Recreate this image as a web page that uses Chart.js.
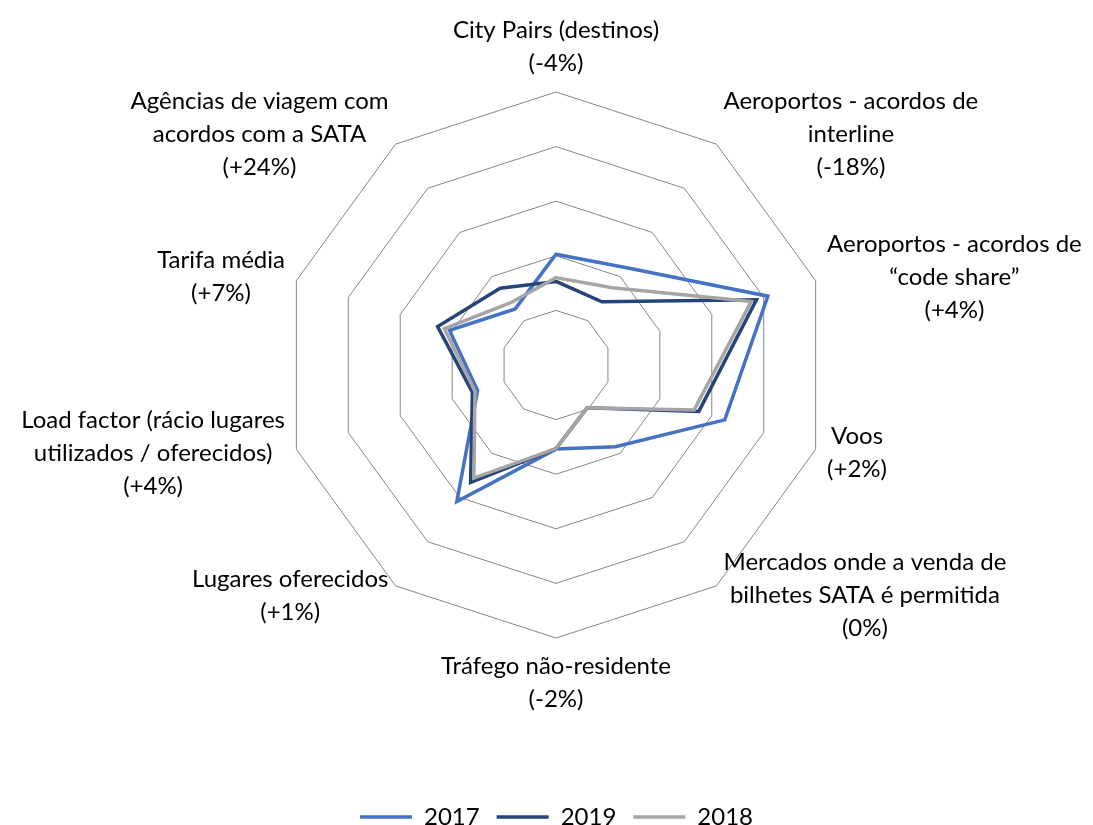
<!DOCTYPE html>
<html>
<head>
<meta charset="utf-8">
<script src="https://cdn.jsdelivr.net/npm/chart.js@4/dist/chart.umd.min.js"></script>
<style>
  html, body { margin: 0; padding: 0; background: #fff; }
  canvas { display: block; }
</style>
</head>
<body>
<canvas id="radarChart" width="1093" height="825"></canvas>
<script>
// Categorias (eixos) e variação 2018-2019
const categories = [
    ['City Pairs (destinos)'],
    ['Aeroportos - acordos de', 'interline'],
    ['Aeroportos - acordos de', '\u201Ccode share\u201D'],
    ['Voos'],
    ['Mercados onde a venda de', 'bilhetes SATA é permitida'],
    ['Tráfego não-residente'],
    ['Lugares oferecidos'],
    ['Load factor (rácio lugares', 'utilizados / oferecidos)'],
    ['Tarifa média'],
    ['Agências de viagem com', 'acordos com a SATA']
];
const changes = ['-4%', '-18%', '+4%', '+2%', '0%', '-2%', '+1%', '+4%', '+7%', '+24%'];

// Valores (escala 0-5)
const values2017 = [2.03, 2.20, 4.08, 3.25, 1.85, 1.54, 3.09, 1.51, 2.05, 1.27];
const values2019 = [1.53, 1.43, 3.86, 2.75, 0.97, 1.53, 2.66, 1.61, 2.28, 1.74];
const values2018 = [1.60, 1.75, 3.76, 2.66, 0.97, 1.53, 2.56, 1.56, 2.15, 1.41];

const scaleMin = 0;
const scaleMax = 5;
const scaleStep = 1;

const labelFont = '24px Lato';
const labelLineHeight = 33;

// rótulos em blocos centrados, colocados a partir da posição do eixo
const pointLabelBlocks = {
    id: 'pointLabelBlocks',
    afterDraw(chart) {
        const scale = chart.scales.r;
        const ctx = chart.ctx;
        ctx.save();
        ctx.font = labelFont;
        ctx.fillStyle = '#000';
        ctx.textAlign = 'center';
        ctx.textBaseline = 'middle';
        chart.data.labels.forEach((lines, i) => {
            const pos = scale.getPointPosition(i, scale.drawingArea + 12);
            const w = Math.max(...lines.map(t => ctx.measureText(t).width));
            const h = lines.length * labelLineHeight;
            const dx = pos.x - scale.xCenter;
            const dy = pos.y - scale.yCenter;
            let cx = pos.x;
            let top = pos.y - h / 2;
            if (dx > 1) cx = pos.x + w / 2;
            else if (dx < -1) cx = pos.x - w / 2;
            else top = dy < 0 ? pos.y - h : pos.y;
            lines.forEach((t, k) => ctx.fillText(t, cx, top + labelLineHeight * (k + 0.5)));
        });
        ctx.restore();
    }
};

const labels = categories.map((c, i) => [...c, '(' + changes[i] + ')']);

const datasets = [
    { label: '2017', data: values2017, borderColor: '#4472C4', order: 2 },
    { label: '2019', data: values2019, borderColor: '#264478', order: 1 },
    { label: '2018', data: values2018, borderColor: '#A5A5A5', order: 0 }
].map(d => ({
    ...d,
    backgroundColor: d.borderColor,
    borderWidth: 3.5,
    fill: false,
    pointRadius: 0,
    pointHoverRadius: 0,
    tension: 0
}));

new Chart(document.getElementById('radarChart'), {
    type: 'radar',
    data: { labels: labels, datasets: datasets },
    options: {
        responsive: false,
        animation: false,
        devicePixelRatio: 1,
        layout: { padding: { top: 90, left: 283, right: 263, bottom: -14 } },
        elements: { line: { borderJoinStyle: 'miter' } },
        scales: {
            r: {
                min: scaleMin,
                max: scaleMax,
                ticks: { display: false, stepSize: scaleStep },
                grid: { color: '#858585', lineWidth: 1, circular: false },
                angleLines: { display: false },
                pointLabels: { display: false }
            }
        },
        plugins: {
            tooltip: { enabled: false },
            legend: {
                position: 'bottom',
                title: { display: true, text: '', font: { size: 10, lineHeight: 1 }, padding: { top: 137, bottom: 0 } },
                labels: {
                    sort: (a, b) => a.datasetIndex - b.datasetIndex,
                    usePointStyle: true,
                    pointStyle: 'line',
                    pointStyleWidth: 52,
                    padding: 17,
                    color: '#000',
                    font: { family: 'Lato', size: 24 }
                }
            }
        }
    },
    plugins: [pointLabelBlocks]
});
</script>
</body>
</html>
